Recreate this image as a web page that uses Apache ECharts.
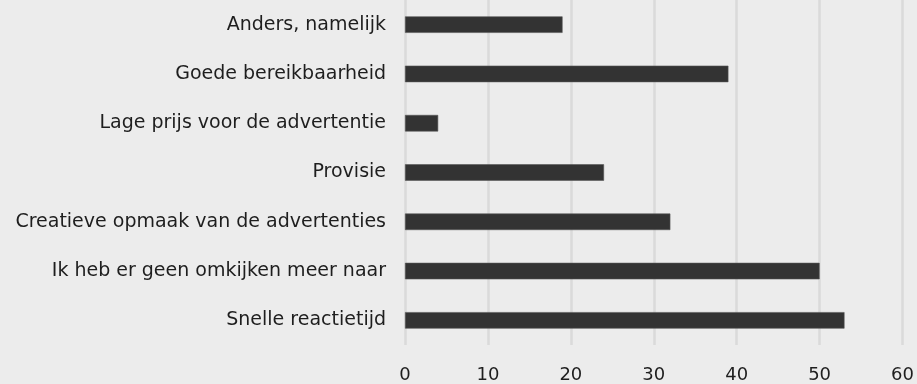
<!DOCTYPE html>
<html>
<head>
<meta charset="utf-8">
<script src="https://cdn.jsdelivr.net/npm/echarts@6/dist/echarts.min.js"></script>
<style>
  html, body { margin: 0; padding: 0; background: #ececec; }
  #chart { width: 917px; height: 384px; }
</style>
</head>
<body>
<div id="chart"></div>
<script>
// categories bottom -> top
var categories = [
  'Snelle reactietijd',
  'Ik heb er geen omkijken meer naar',
  'Creatieve opmaak van de advertenties',
  'Provisie',
  'Lage prijs voor de advertentie',
  'Goede bereikbaarheid',
  'Anders, namelijk'
];
var values = [53, 50, 32, 24, 4, 39, 19];
var xTicks = [0, 10, 20, 30, 40, 50, 60];

var chart = echarts.init(document.getElementById('chart'));
var option = {
  backgroundColor: '#ececec',
  animation: false,
  textStyle: { fontFamily: 'DejaVu Sans' },
  grid: {
    left: 405,
    right: 13,
    top: -6,
    bottom: 38.5
  },
  xAxis: {
    type: 'value',
    min: xTicks[0],
    max: xTicks[xTicks.length - 1],
    interval: 10,
    axisLine: { show: false },
    axisTick: { show: false },
    axisLabel: { color: '#1e1e1e', fontSize: 18, margin: 21 },
    splitLine: { lineStyle: { color: '#dadada', width: 2.5 } }
  },
  yAxis: {
    type: 'category',
    data: categories,
    axisLine: { show: false },
    axisTick: { show: false },
    axisLabel: { color: '#1e1e1e', fontSize: 19, margin: 19 }
  },
  series: [{
    type: 'bar',
    data: values,
    barWidth: 16.5,
    itemStyle: { color: '#333333', borderColor: '#555', borderWidth: 0.6 }
  }]
};
chart.setOption(option);
</script>
</body>
</html>
